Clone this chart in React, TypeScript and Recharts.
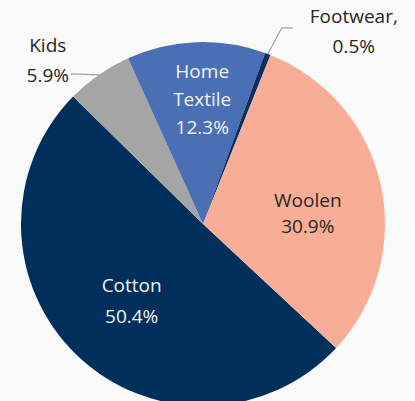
import { Cell, Pie, PieChart } from "recharts";

const categories = ["Cotton", "Kids", "Home Textile", "Footwear", "Woolen"];
const shares = [50.4, 5.9, 12.3, 0.5, 30.9];
const sliceColors = ["#002f5b", "#a5a5a5", "#4a6fb4", "#0c2e5c", "#f8ae96"];

const RAD = Math.PI / 180;
const FONT = "'Open Sans', sans-serif";

// how each label sits; inside labels are placed radially, outside ones get a leader
const labelLayout: Record<number, any> = {
  0: { kind: "in", r: 0.575, dx: 1, dy: 1, lh: 31, fill: "#f2f2f2" },
  1: { kind: "left", lh: 30, fill: "#262626" },
  2: { kind: "in", r: 0.69, dx: 4, dy: 0, lh: 28, fill: "#f2f2f2" },
  3: { kind: "up", lh: 30, fill: "#262626" },
  4: { kind: "in", r: 0.59, dx: 0, dy: 12, lh: 26, fill: "#262626" },
};

function labelLines(i: number) {
  const pct = `${shares[i].toFixed(1)}%`;
  if (i === 3) return [`${categories[i]},`, pct];
  return [...categories[i].split(" "), pct];
}

function TextBlock({ x, y, lines, lh, fill }: { x: number; y: number; lines: string[]; lh: number; fill: string }) {
  const top = y - ((lines.length - 1) * lh) / 2;
  return (
    <text x={x} y={top} fill={fill} textAnchor="middle" dominantBaseline="central" fontFamily={FONT} fontSize={19}>
      {lines.map((t, k) => (
        <tspan key={k} x={x} dy={k === 0 ? 0 : lh}>
          {t}
        </tspan>
      ))}
    </text>
  );
}

function renderLabel(props: any) {
  const { cx, cy, midAngle, outerRadius, index } = props;
  const cfg = labelLayout[index];
  const lines = labelLines(index);
  const cos = Math.cos(-midAngle * RAD);
  const sin = Math.sin(-midAngle * RAD);
  if (cfg.kind === "in") {
    const r = outerRadius * cfg.r;
    return <TextBlock x={cx + r * cos + cfg.dx} y={cy + r * sin + cfg.dy} lines={lines} lh={cfg.lh} fill={cfg.fill} />;
  }
  const ax = cx + outerRadius * cos;
  const ay = cy + outerRadius * sin;
  if (cfg.kind === "left") {
    const ex = ax - 28;
    return (
      <g>
        <polyline points={`${ax},${ay} ${ex},${ay - 1}`} stroke="#a6a6a6" strokeWidth={1.2} fill="none" />
        <TextBlock x={ex - 23} y={ay - 15} lines={lines} lh={cfg.lh} fill={cfg.fill} />
      </g>
    );
  }
  const kx = ax + 14;
  const ky = ay - 26;
  return (
    <g>
      <polyline points={`${ax},${ay} ${kx},${ky} ${kx + 11},${ky}`} stroke="#a6a6a6" strokeWidth={1.2} fill="none" />
      <TextBlock x={kx + 72} y={ky + 3} lines={lines} lh={cfg.lh} fill={cfg.fill} />
    </g>
  );
}

export default function App() {
  const data = categories.map((name, i) => ({ name, value: shares[i] }));
  return (
    <div style={{ position: "fixed", left: 0, top: 0, width: 415, height: 401, background: "#fafafa" }}>
      <PieChart width={415} height={401} margin={{ top: 0, right: 0, bottom: 0, left: 0 }}>
        <Pie
          data={data}
          dataKey="value"
          nameKey="name"
          cx={203}
          cy={224}
          outerRadius={182}
          startAngle={-43}
          endAngle={-403}
          stroke="none"
          label={renderLabel}
          labelLine={false}
          isAnimationActive={false}
        >
          {data.map((d, i) => (
            <Cell key={d.name} fill={sliceColors[i]} />
          ))}
        </Pie>
      </PieChart>
    </div>
  );
}
